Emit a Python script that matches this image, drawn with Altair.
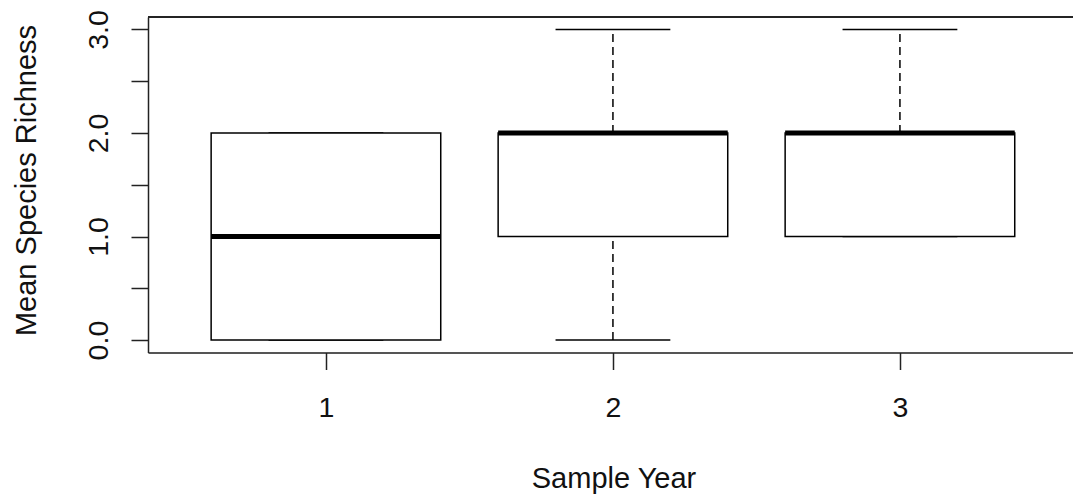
import altair as alt
import pandas as pd

# Box-plot summary per sample year
years = [1, 2, 3]
whisker_low = [0.0, 0.0, 1.0]
q1 = [0.0, 1.0, 1.0]
median = [1.0, 2.0, 2.0]
q3 = [2.0, 2.0, 2.0]
whisker_high = [2.0, 3.0, 3.0]

y_ticks = [0.0, 0.5, 1.0, 1.5, 2.0, 2.5, 3.0]
x_ticks = [1, 2, 3]

df = pd.DataFrame({
    "year": years,
    "lo": whisker_low,
    "q1": q1,
    "med": median,
    "q3": q3,
    "hi": whisker_high,
})

FONT = "Liberation Sans"
W, H = 925, 335.5
BOX_HALF = 0.4      # half of the box width
STAPLE_HALF = 0.2   # half of the whisker cap width

xscale = alt.Scale(domain=[0.38, 0.38 + W / 287.0], nice=False, zero=False)
yscale = alt.Scale(domain=[-0.12, 3.12], nice=False, zero=False)

base = alt.Chart(df).transform_calculate(
    bx0=f"datum.year - {BOX_HALF}",
    bx1=f"datum.year + {BOX_HALF}",
    sx0=f"datum.year - {STAPLE_HALF}",
    sx1=f"datum.year + {STAPLE_HALF}",
)

x_axis = alt.Axis(
    values=x_ticks, format="d", labelAngle=0, grid=False,
    tickSize=17, tickColor="#222", tickWidth=1.5,
    domainColor="#222", domainWidth=1.5,
    labelFont=FONT, labelFontSize=28.5, labelColor="#111",
    labelBaseline="alphabetic", labelPadding=46.5,
    title="Sample Year", titleFont=FONT, titleFontSize=29,
    titleFontWeight="normal", titleColor="#111",
    titleBaseline="alphabetic", titleX=465.5, titleY=134.5,
    titleAlign="center",
)
y_axis = alt.Axis(
    values=y_ticks, grid=False,
    labelExpr="datum.value % 1 === 0 ? format(datum.value, '.1f') : ''",
    labelAngle=270, labelAlign="center", labelBaseline="alphabetic",
    labelPadding=24, labelFont=FONT, labelFontSize=28.5, labelColor="#111",
    tickSize=17, tickColor="#222", tickWidth=1.5,
    domainColor="#222", domainWidth=1.5,
    title="Mean Species Richness", titleFont=FONT, titleFontSize=29,
    titleFontWeight="normal", titleColor="#111",
    titleAngle=270, titleAlign="center", titleBaseline="alphabetic",
    titleX=-113, titleY=163,
)

whisker_up = base.mark_rule(color="black", strokeWidth=1.5, strokeDash=[8, 5]).encode(
    x=alt.X("year:Q", scale=xscale, axis=x_axis),
    y=alt.Y("q3:Q", scale=yscale, axis=y_axis),
    y2="hi:Q",
)
whisker_down = base.mark_rule(color="black", strokeWidth=1.5, strokeDash=[8, 5]).encode(
    x="year:Q", y="lo:Q", y2="q1:Q",
)
staple_hi = base.mark_rule(color="black", strokeWidth=1.5).encode(
    x="sx0:Q", x2="sx1:Q", y="hi:Q",
)
staple_lo = base.mark_rule(color="black", strokeWidth=1.5).encode(
    x="sx0:Q", x2="sx1:Q", y="lo:Q",
)
boxes = base.mark_rect(fill="white", stroke="black", strokeWidth=1.5).encode(
    x="bx0:Q", x2="bx1:Q", y="q1:Q", y2="q3:Q",
)
medians = base.mark_rule(color="black", strokeWidth=5).encode(
    x="bx0:Q", x2="bx1:Q", y="med:Q",
)
# top edge of the plot frame
frame_top = alt.Chart(df).mark_rule(color="#222", strokeWidth=1.5).encode(
    x=alt.value(0), x2=alt.value(W), y=alt.value(0),
)

chart = alt.layer(
    whisker_up, whisker_down, staple_hi, staple_lo, boxes, medians, frame_top
).properties(
    width=W, height=H,
    autosize=alt.AutoSizeParams(type="none"),
    padding={"left": 148, "top": 17, "right": 0, "bottom": 497 - 17 - H},
).configure_view(stroke=None).configure(background="white")

chart.save("out.html", embed_options={"renderer": "svg", "actions": False})
